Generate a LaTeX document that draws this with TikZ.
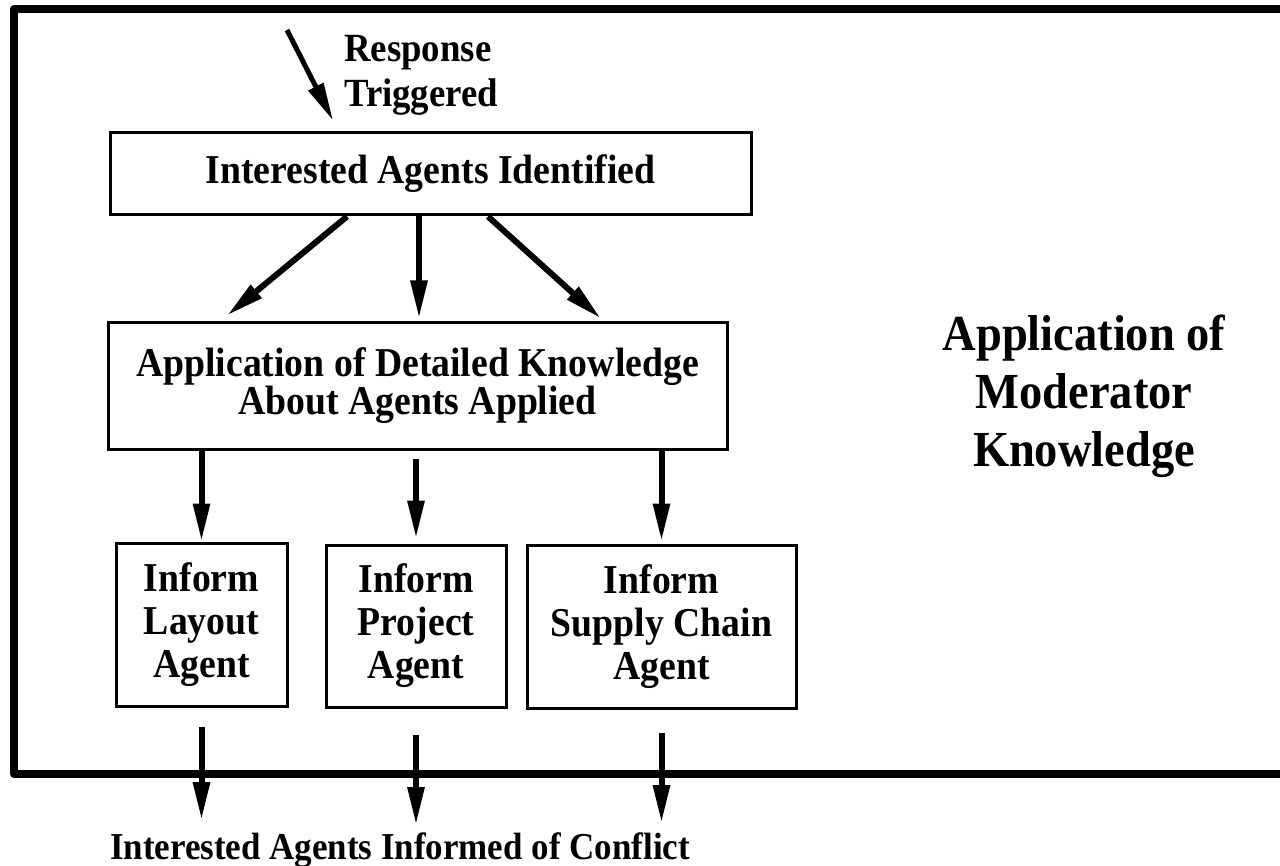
\documentclass[tikz,border=0pt]{standalone}
\usepackage{fontspec}
\setmainfont{Liberation Serif}[FakeStretch=0.92]
\usetikzlibrary{arrows.meta,calc}

\begin{document}
\begin{tikzpicture}[x=1pt,y=-1pt,
  txt/.style={inner sep=0pt, align=center, font=\fontsize{41}{43}\selectfont\bfseries},
  box/.style={txt, draw, line width=3pt, line join=miter},
  flow/.style={line width=6pt, -{Triangle[length=38pt,width=16pt]}},
  frame/.style={line width=8pt, line join=round}]
\useasboundingbox (0,0) rectangle (1280,866);

% enclosing frame, open to the right
\draw[frame] (1300,9) -- (14,9) -- (14,774) -- (1300,774);

% boxes
\node[box, minimum width=641pt, minimum height=82pt] (b1) at (430.5,174)
  {Interested Agents Identified};
\node[box, minimum width=619pt, minimum height=126pt,
      font=\fontsize{41}{38}\selectfont\bfseries] (b2) at (417.5,386)
  {Application of Detailed Knowledge\\About Agents Applied};
\node[box, minimum width=171pt, minimum height=163pt] (lay) at (201.5,624.5)
  {Inform\\Layout\\Agent};
\node[box, minimum width=180pt, minimum height=162pt] (proj) at (416,626)
  {Inform\\Project\\Agent};
\node[box, minimum width=269pt, minimum height=163pt] (sup) at (661.5,626.5)
  {Inform\\Supply Chain\\Agent};

% labels
\node[txt, anchor=north west, align=left, font=\fontsize{40}{45}\selectfont\bfseries]
  (resp) at (344,35) {Response\\Triggered};
\node[txt, font=\fontsize{50.5}{58}\selectfont\bfseries] (mod) at (1084,396)
  {Application of\\Moderator\\Knowledge};
\node[txt, anchor=base, font=\fontsize{38}{40}\selectfont\bfseries] (bt) at (400,859)
  {Interested Agents Informed of Conflict};

% incoming trigger
\coordinate (rt) at (287,30);
\draw[flow, line width=5pt] (rt) -- ($(b1.north)+(-97.5,-11)$);

% fan-out to detailed knowledge
\draw[flow] ($(b1.south)+(-83.5,0)$) -- ($(b2.north)+(-190.5,-6)$);
\draw[flow] ($(b1.south)+(-11.5,0)$) -- ($(b2.north)+(1.5,-3)$);
\draw[flow] ($(b1.south)+(57.5,0)$) -- ($(b2.north)+(183.5,-3)$);

% detailed knowledge to each inform step
\draw[flow] (lay.north |- b2.south) -- (lay.north);
\draw[flow, shorten <=8pt, shorten >=5pt] (proj.north |- b2.south) -- (proj.north);
\draw[flow, shorten >=2pt] (sup.north |- b2.south) -- (sup.north);

% outputs
\draw[flow, shorten <=19pt, shorten >=12pt] (lay.south) -- (lay.south |- bt.north);
\draw[flow, shorten <=26pt, shorten >=7pt] (proj.south) -- (proj.south |- bt.north);
\draw[flow, shorten <=23pt, shorten >=9pt] (sup.south) -- (sup.south |- bt.north);
\end{tikzpicture}
\end{document}
